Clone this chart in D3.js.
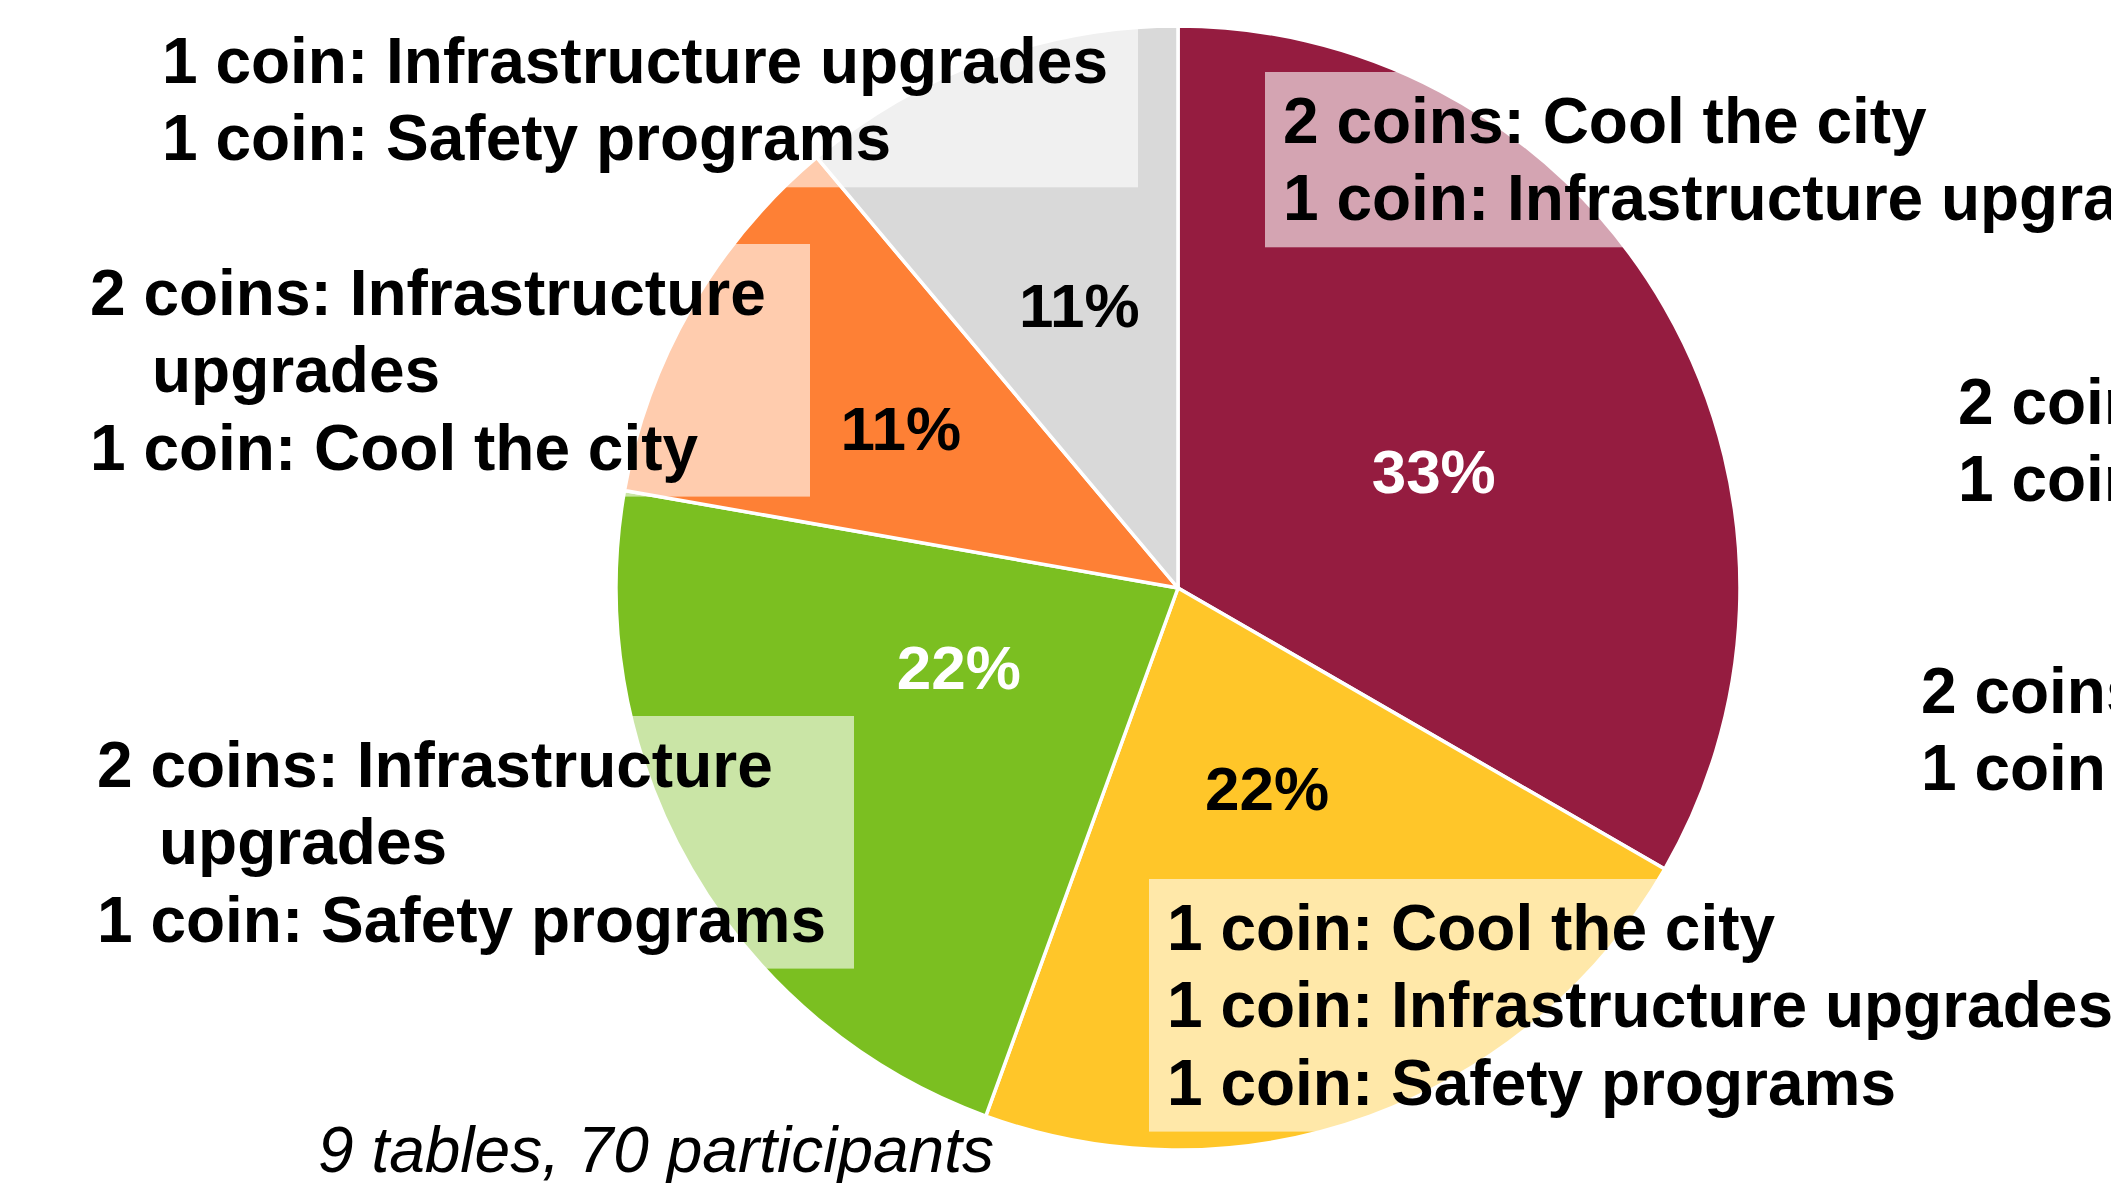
<!DOCTYPE html>
<html>
<head>
<meta charset="utf-8">
<script src="https://cdn.jsdelivr.net/npm/d3@7"></script>
<style>
body { margin: 0; background: #fff; overflow: hidden; }
svg { display: block; font-family: "Liberation Sans", Arial, sans-serif; }
</style>
</head>
<body>
<div class="chart"></div>
<script>
var svgWidth = 2111;
var svgHeight = 1183;

// coin split picked at each table
var allocations = [
    ["2 coins: Cool the city", "1 coin: Infrastructure upgrades"],
    ["1 coin: Cool the city", "1 coin: Infrastructure upgrades", "1 coin: Safety programs"],
    ["2 coins: Infrastructure upgrades", "1 coin: Safety programs"],
    ["2 coins: Infrastructure upgrades", "1 coin: Cool the city"],
    ["1 coin: Infrastructure upgrades", "1 coin: Safety programs"],
    ["2 coins: Cool the city", "1 coin: Safety programs"],
    ["2 coins: Safety programs", "1 coin: Cool the city"]
];
// number of tables for each split
var tables = [3, 2, 2, 1, 1, 0, 0];
var colors = ["#951c40", "#ffc629", "#7bbf21", "#fe8035", "#d9d9d9", "#cccccc", "#cccccc"];
var pctColors = ["#fff", "#000", "#fff", "#000", "#000", "#000", "#000"];
var footnote = "9 tables, 70 participants";

// where the label boxes sit
var labelLayout = [
    { x: 1283, y: 143, boxLeft: 1265, boxRight: 2400, maxWidth: 2000 },
    { x: 1167, y: 950, boxLeft: 1149, boxRight: 2400, maxWidth: 2000 },
    { x: 97, y: 787, boxLeft: 75, boxRight: 854, maxWidth: 800 },
    { x: 90, y: 315, boxLeft: 68, boxRight: 810, maxWidth: 800 },
    { x: 162, y: 83, boxLeft: 140, boxRight: 1138, maxWidth: 2000 },
    { x: 1958, y: 424, boxLeft: 1940, boxRight: 2400, maxWidth: 2000 },
    { x: 1921, y: 713, boxLeft: 1903, boxRight: 2400, maxWidth: 2000 }
];
// percent label: distance from centre and angle nudge (deg)
var pctLayout = [
    { r: 281, shift: 5.5 },
    { r: 219, shift: -4 },
    { r: 233, shift: 10.2 },
    { r: 320, shift: 0 },
    { r: 300, shift: 0.8 }
];

var cx = 1178, cy = 588, radius = 562;
var lineH = 77.3;
var fontSize = 64;

var svg = d3.select(".chart")
    .append("svg")
    .attr("width", svgWidth)
    .attr("height", svgHeight);

svg.append("rect")
    .attr("width", svgWidth)
    .attr("height", svgHeight)
    .attr("fill", "#fff");

var total = d3.sum(tables);
var pie = d3.pie().sort(null).value(function(d) { return d; });
var arcs = pie(tables);
var arc = d3.arc().innerRadius(0).outerRadius(radius);

var chart = svg.append("g")
    .attr("transform", "translate(" + cx + "," + cy + ")");

chart.selectAll("path")
    .data(arcs.filter(function(d) { return d.value > 0; }))
    .enter().append("path")
        .attr("d", arc)
        .attr("fill", function(d) { return colors[d.index]; })
        .attr("stroke", "#fff")
        .attr("stroke-width", 3.5)
        .attr("stroke-linejoin", "round");

// measuring text for wrapping
var measure = svg.append("text")
    .attr("font-size", fontSize)
    .attr("font-weight", "bold")
    .attr("opacity", 0);
function textWidth(s) {
    measure.text(s);
    return measure.node().getComputedTextLength();
}

var labels = svg.append("g");
allocations.forEach(function(lines, i) {
    var L = labelLayout[i];
    var rows = [];
    lines.forEach(function(line) {
        if (textWidth(line) <= L.maxWidth) {
            rows.push({ text: line, indent: 0 });
            return;
        }
        var words = line.split(" ");
        var cur = [];
        var indent = 0;
        words.forEach(function(w) {
            var test = cur.concat([w]).join(" ");
            if (cur.length && textWidth(test) + indent > L.maxWidth) {
                rows.push({ text: cur.join(" "), indent: indent });
                cur = [w];
                indent = 62;
            } else {
                cur.push(w);
            }
        });
        rows.push({ text: cur.join(" "), indent: indent });
    });

    var top = L.y - 71;
    var bottom = L.y + (rows.length - 1) * lineH + 27;
    labels.append("rect")
        .attr("x", L.boxLeft)
        .attr("y", top)
        .attr("width", L.boxRight - L.boxLeft)
        .attr("height", bottom - top)
        .attr("fill", "#fff")
        .attr("fill-opacity", 0.6);

    var t = labels.append("text")
        .attr("font-size", fontSize)
        .attr("font-weight", "bold")
        .attr("fill", "#000");
    rows.forEach(function(r, k) {
        t.append("tspan")
            .attr("x", L.x + r.indent)
            .attr("y", L.y + k * lineH)
            .text(r.text);
    });
});
measure.remove();

// percentages
var pctFmt = d3.format(".0%");
svg.append("g")
    .attr("transform", "translate(" + cx + "," + cy + ")")
    .selectAll("text")
    .data(arcs.filter(function(d) { return d.value > 0; }))
    .enter().append("text")
        .attr("text-anchor", "middle")
        .attr("font-size", 62)
        .attr("font-weight", "bold")
        .attr("fill", function(d) { return pctColors[d.index]; })
        .attr("transform", function(d) {
            var p = pctLayout[d.index];
            var a = (d.startAngle + d.endAngle) / 2 + p.shift * Math.PI / 180;
            var pt = d3.pointRadial(a, p.r);
            return "translate(" + pt[0] + "," + (pt[1] + 22) + ")";
        })
        .text(function(d) { return pctFmt(d.value / total); });

svg.append("text")
    .attr("x", 318)
    .attr("y", 1172)
    .attr("font-size", fontSize)
    .attr("font-style", "italic")
    .attr("fill", "#000")
    .text(footnote);
</script>
</body>
</html>
